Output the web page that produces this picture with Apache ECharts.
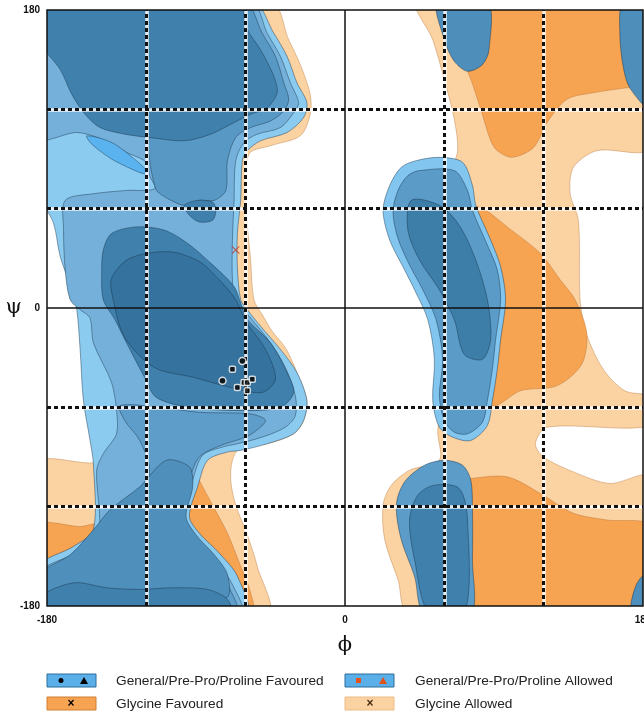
<!DOCTYPE html>
<html>
<head>
<meta charset="utf-8">
<script src="https://cdn.jsdelivr.net/npm/echarts@6/dist/echarts.min.js"></script>
<style>
  * { margin: 0; padding: 0; }
  body { background: #fff; }
  #chart { width: 644px; height: 718px; }
</style>
</head>
<body>
<div id="chart"></div>
<script>
// axis ticks
const labelTicks = [-180, 0, 180];
const gridTicks = [-120, -60, 60, 120];
const zeroTicks = [0];

// region outlines, [phi, psi] in degrees (edge points pushed to +-185, clipped by the grid)
const glyAllowedR = [[44,185],[185,185],[185,97],[152,95],[138,85],[136,69],[141,53],[142,5],[146,-16],[156,-37],[169,-50],[185,-54],[185,-71],[122,-72],[115,-82],[120,-90],[138,-99],[160,-106],[185,-102],[185,-185],[39,-185],[32,-164],[24,-140],[23,-119],[28,-107],[39,-98],[57,-92],[56,-74],[60,-43],[57,-7],[45,17],[39,41],[45,65],[63,83],[68,95],[66,114],[60,138],[53,162]];
const glyAllowedL = [[-185,185],[-45,185],[-34,162],[-27,147],[-21,129],[-21,117],[-27,104],[-45,98],[-58,93],[-60,65],[-57,29],[-55,5],[-50,-4],[-44,-14],[-36,-24],[-29,-39],[-23,-56],[-25,-68],[-31,-76],[-47,-82],[-63,-84],[-68,-92],[-69,-104],[-66,-119],[-59,-137],[-53,-156],[-47,-185],[-185,-185],[-185,-94],[-150,-93],[-146,-80],[-146,0],[-146,60],[-150,120],[-185,130]];
const glyFavTop = [[57,185],[185,185],[185,135],[170,133],[150,130],[134,126],[122,112],[114,97],[101,91],[92,95],[88,101],[82,120],[74,143],[63,162]];
const glyFavMid = [[76,62],[85,59],[98,49],[118,33],[130,17],[139,5],[146,-15],[143,-34],[128,-47],[106,-50],[91,-59],[82,-56],[82,5],[76,35],[71,56]];
const glyFavBot = [[69,-105],[76,-103],[98,-102],[118,-112],[138,-124],[158,-128],[185,-132],[185,-185],[66,-185],[66,-128]];
const glyFavBand = [[-91,-97],[-88,-104],[-80,-119],[-71,-136],[-63,-156],[-57,-172],[-56,-185],[-97,-185],[-97,-116]];
const glyFavEdge = [[-185,-131],[-160,-132],[-148,-131],[-148,-152],[-185,-161]];

const genAllowed = [[-185,185],[-56,185],[-43,166],[-35,152],[-29,136],[-23,124],[-25,115],[-35,106],[-51,101],[-59,95],[-62,89],[-63,65],[-65,45],[-65,25],[-63,5],[-59,-1],[-51,-11],[-39,-25],[-29,-39],[-23,-56],[-25,-68],[-31,-76],[-47,-82],[-63,-86],[-71,-87],[-83,-92],[-89,-108],[-94,-126],[-88,-136],[-76,-148],[-65,-162],[-60,-185],[-185,-185],[-185,-156],[-164,-144],[-152,-134],[-152,-94],[-154,-80],[-158,-56],[-160,-25],[-162,-1],[-165,11],[-172,31],[-176,51],[-185,71]];
const genLight = [[-185,185],[-57,185],[-47,166],[-39,152],[-33,136],[-28,124],[-31,118],[-39,109],[-53,105],[-61,100],[-66,89],[-67,65],[-68,41],[-68,17],[-66,5],[-57,-6],[-45,-21],[-36,-36],[-30,-53],[-30,-65],[-36,-72],[-50,-78],[-65,-82],[-74,-84],[-86,-89],[-92,-104],[-97,-125],[-91,-140],[-79,-152],[-68,-167],[-63,-185],[-185,-185],[-185,-160],[-163,-148],[-149,-137],[-150,-98],[-146,-88],[-138,-76],[-138,-62],[-141,-45],[-152,-21],[-154,-6],[-160,-1],[-166,5],[-169,23],[-170,47],[-169,65],[-152,69],[-132,71],[-115,72],[-118,80],[-120,88],[-132,94],[-147,102],[-162,106],[-185,103]];
const genBright = [[-156,104],[-141,100],[-126,89],[-120,83],[-121,81],[-129,84],[-141,90],[-153,99]];
const genSteelTop = [[-88,185],[-60,185],[-50,166],[-42,152],[-37,136],[-34,126],[-37,119],[-45,113],[-57,109],[-66,103],[-71,89],[-72,71],[-79,65],[-88,65],[-97,62],[-105,65],[-113,70],[-115,74],[-118,89],[-118,103],[-100,114]];
const genSteelLow = [[-136,-59],[-112,-60],[-88,-63],[-57,-64],[-48,-68],[-58,-77],[-75,-83],[-88,-90],[-94,-104],[-98,-125],[-92,-140],[-82,-152],[-71,-167],[-66,-185],[-185,-185],[-185,-164],[-160,-152],[-136,-134],[-124,-116],[-118,-98],[-124,-80],[-133,-68]];
const genDarkTop = [[-185,185],[-65,185],[-59,168],[-51,156],[-43,140],[-41,130],[-47,121],[-57,117],[-69,111],[-81,105],[-97,101],[-118,103],[-133,105],[-148,109],[-157,117],[-165,129],[-172,144],[-185,162]];
const genBump = [[-97,62],[-94,56],[-88,52],[-80,53],[-78,59],[-80,64],[-89,65]];
const genDarkAlpha = [[-141,45],[-126,49],[-109,47],[-95,39],[-81,27],[-67,13],[-63,3],[-59,-7],[-45,-21],[-35,-39],[-31,-51],[-39,-60],[-63,-62],[-94,-60],[-114,-54],[-121,-42],[-132,-21],[-139,-7],[-146,5],[-147,21],[-146,35]];
const genCore = [[-140,5],[-133,-18],[-115,-36],[-91,-42],[-69,-48],[-50,-51],[-42,-43],[-48,-25],[-60,-8],[-66,5],[-76,17],[-88,28],[-106,34],[-130,30],[-141,18]];
const genMountain = [[-152,-134],[-142,-122],[-124,-108],[-108,-92],[-94,-96],[-92,-108],[-96,-126],[-90,-137],[-79,-149],[-71,-161],[-72,-175],[-185,-175],[-185,-161],[-166,-149]];
const genDarkBottom = [[-185,-175],[-164,-166],[-144,-169],[-124,-170],[-104,-169],[-83,-170],[-71,-176],[-69,-185],[-185,-185]];

const blobTop = [[56,185],[86,185],[87,156],[83,147],[74,143],[66,149],[60,162]];
const blobEdge = [[168,185],[185,185],[185,120],[172,133],[168,146],[166,166]];
const blobCorner = [[173,-185],[176,-167],[185,-158],[185,-185]];
const lhOuter = [[43,89],[57,91],[71,88],[77,74],[79,62],[88,41],[94,25],[97,5],[94,-19],[92,-37],[89,-56],[86,-71],[76,-80],[65,-78],[57,-72],[53,-56],[54,-31],[50,-7],[42,11],[36,23],[27,41],[23,59],[27,74],[34,85]];
const lhMid = [[45,83],[66,83],[74,71],[77,59],[86,38],[92,23],[94,5],[91,-19],[89,-37],[86,-56],[83,-69],[74,-76],[66,-75],[60,-68],[57,-53],[59,-31],[55,-7],[47,11],[39,26],[32,42],[29,58],[32,71],[38,80]];
const lhCore = [[40,65],[57,62],[69,50],[79,29],[86,5],[88,-19],[83,-31],[72,-28],[66,-7],[57,11],[45,29],[38,47]];
const lowBlob = [[48,-95],[60,-92],[71,-95],[76,-104],[77,-122],[77,-152],[76,-185],[48,-185],[42,-162],[34,-140],[31,-119],[36,-105]];
const lowCore = [[54,-107],[69,-109],[74,-128],[72,-185],[51,-185],[42,-152],[39,-128],[44,-113]];

// residues
const generalRound = [[-62,-32],[-74,-44]];
const generalSquare = [[-68,-37],[-65,-48],[-61,-45],[-59,-45],[-56,-43],[-59,-50]];
const glycinePts = [[-66,35]];

const legendLabels = ['General/Pre-Pro/Proline Favoured', 'General/Pre-Pro/Proline Allowed', 'Glycine Favoured', 'Glycine Allowed'];

const ORANGE_EDGE = 'rgba(170,100,40,0.45)';
const BLUE_EDGE = 'rgba(20,45,70,0.55)';

// draw order: back to front
const regions = [
  { pts: glyAllowedR, fill: '#fbd2a2', edge: ORANGE_EDGE },
  { pts: glyAllowedL, fill: '#fbd2a2', edge: ORANGE_EDGE },
  { pts: glyFavTop, fill: '#f6a352', edge: ORANGE_EDGE },
  { pts: glyFavMid, fill: '#f6a352', edge: ORANGE_EDGE },
  { pts: glyFavBot, fill: '#f6a352', edge: ORANGE_EDGE },
  { pts: glyFavBand, fill: '#f6a352', edge: ORANGE_EDGE },
  { pts: glyFavEdge, fill: '#f6a352', edge: ORANGE_EDGE },
  { pts: genAllowed, fill: '#8ccbf0', edge: BLUE_EDGE },
  { pts: genLight, fill: '#74b0d9', edge: BLUE_EDGE },
  { pts: genBright, fill: '#5ab3ee', edge: BLUE_EDGE },
  { pts: genSteelTop, fill: '#5898c5', edge: BLUE_EDGE },
  { pts: genSteelLow, fill: '#5e9dc9', edge: BLUE_EDGE },
  { pts: genDarkTop, fill: '#3f80ac', edge: BLUE_EDGE },
  { pts: genBump, fill: '#3f80ac', edge: BLUE_EDGE },
  { pts: genDarkAlpha, fill: '#3f80ac', edge: BLUE_EDGE },
  { pts: genCore, fill: '#35729d', edge: BLUE_EDGE },
  { pts: genMountain, fill: '#4f8fbc', edge: BLUE_EDGE },
  { pts: genDarkBottom, fill: '#3f80ac', edge: BLUE_EDGE },
  { pts: blobTop, fill: '#4d8ebb', edge: BLUE_EDGE },
  { pts: blobEdge, fill: '#4d8ebb', edge: BLUE_EDGE },
  { pts: blobCorner, fill: '#4d8ebb', edge: BLUE_EDGE },
  { pts: lhOuter, fill: '#82c6ef', edge: BLUE_EDGE },
  { pts: lhMid, fill: '#5a9bc8', edge: BLUE_EDGE },
  { pts: lhCore, fill: '#3d7ea9', edge: BLUE_EDGE },
  { pts: lowBlob, fill: '#5b9cc9', edge: BLUE_EDGE },
  { pts: lowCore, fill: '#3f80ac', edge: BLUE_EDGE }
];

const chart = echarts.init(document.getElementById('chart'));

const renderRegion = (params, api) => {
  const r = regions[params.dataIndex];
  return {
    type: 'polygon',
    shape: { points: r.pts.map(p => api.coord(p)), smooth: 0.3 },
    style: { fill: r.fill, stroke: r.edge, lineWidth: 0.8 }
  };
};

const lineMarks = (ticks, style) => ({
  silent: true,
  symbol: 'none',
  label: { show: false },
  animation: false,
  lineStyle: style,
  data: ticks.map(v => ({ xAxis: v })).concat(ticks.map(v => ({ yAxis: v })))
});

const axisCommon = {
  type: 'value', min: -180, max: 180, interval: 60,
  axisLine: { show: false }, axisTick: { show: false }, splitLine: { show: false },
  nameLocation: 'middle', nameMoveOverlap: false,
  nameTextStyle: { fontSize: 21, fontFamily: 'DejaVu Serif', color: '#111' }
};
const tickLabel = {
  formatter: v => labelTicks.includes(v) ? String(v) : '',
  color: '#111', fontSize: 10, fontWeight: 'bold', fontFamily: 'Liberation Sans'
};

const swatchY = [674, 697];
const legendGraphics = [
  { type: 'rect', shape: { x: 47, y: swatchY[0], width: 49, height: 13 }, style: { fill: '#5aafe8', stroke: '#2d6c9c', lineWidth: 1 } },
  { type: 'circle', shape: { cx: 61, cy: swatchY[0] + 6.5, r: 2.5 }, style: { fill: '#000' } },
  { type: 'polygon', shape: { points: [[84, swatchY[0] + 3], [80, swatchY[0] + 10], [88, swatchY[0] + 10]] }, style: { fill: '#000' } },
  { type: 'rect', shape: { x: 345, y: swatchY[0], width: 49, height: 13 }, style: { fill: '#5aafe8', stroke: '#2d6c9c', lineWidth: 1 } },
  { type: 'rect', shape: { x: 356, y: swatchY[0] + 4, width: 5, height: 5 }, style: { fill: '#e0531c' } },
  { type: 'polygon', shape: { points: [[383, swatchY[0] + 3], [379, swatchY[0] + 10], [387, swatchY[0] + 10]] }, style: { fill: '#e0531c' } },
  { type: 'rect', shape: { x: 47, y: swatchY[1], width: 49, height: 13 }, style: { fill: '#f6a352', stroke: '#cf7f33', lineWidth: 1 } },
  { type: 'text', x: 71, y: swatchY[1] + 7, style: { text: '×', fill: '#000', font: 'bold 12px Liberation Sans', align: 'center', verticalAlign: 'middle' } },
  { type: 'rect', shape: { x: 345, y: swatchY[1], width: 49, height: 13 }, style: { fill: '#fbd2a2', stroke: '#ecbd86', lineWidth: 1 } },
  { type: 'text', x: 370, y: swatchY[1] + 7, style: { text: '×', fill: '#4a2a10', font: 'bold 12px Liberation Sans', align: 'center', verticalAlign: 'middle' } }
];
[[116, 0], [415, 0], [116, 1], [415, 1]].forEach(([x, row], i) => {
  legendGraphics.push({
    type: 'text', x: x, y: swatchY[row] + 7,
    style: { text: legendLabels[i], fill: '#222', font: '13.7px Liberation Sans', verticalAlign: 'middle' }
  });
});

chart.setOption({
  animation: false,
  backgroundColor: '#fff',
  grid: {
    left: 47, top: 10, width: 596, height: 596, outerBoundsMode: 'none', containLabel: false,
    show: true, backgroundColor: 'transparent', borderColor: '#111', borderWidth: 1.5, z: 10
  },
  xAxis: Object.assign({}, axisCommon, {
    name: 'ϕ', nameGap: 29,
    axisLabel: Object.assign({}, tickLabel, { margin: 9 })
  }),
  yAxis: Object.assign({}, axisCommon, {
    name: 'ψ', nameGap: 25, nameRotate: 0,
    nameTextStyle: Object.assign({}, axisCommon.nameTextStyle, { padding: [0, 0, 14, 0] }),
    axisLabel: Object.assign({}, tickLabel, { margin: 7 })
  }),
  graphic: legendGraphics,
  series: [
    {
      type: 'custom',
      clip: true,
      z: 2,
      renderItem: renderRegion,
      data: regions.map((r, i) => [i, 0])
    },
    { type: 'line', data: [], z: 3, markLine: lineMarks(gridTicks, { color: 'rgba(255,255,255,0.85)', width: 3.5, type: 'solid' }) },
    { type: 'line', data: [], z: 4, markLine: lineMarks(gridTicks, { color: '#111', width: 3, type: [4, 3] }) },
    { type: 'line', data: [], z: 5, markLine: lineMarks(zeroTicks, { color: '#111', width: 1.5, type: 'solid' }) },
    {
      type: 'scatter', z: 6, data: generalRound, symbol: 'circle', symbolSize: 7,
      itemStyle: { color: '#000', borderColor: '#fff', borderWidth: 1.5 }
    },
    {
      type: 'scatter', z: 6, data: generalSquare, symbol: 'roundRect', symbolSize: 6,
      itemStyle: { color: '#000', borderColor: '#fff', borderWidth: 1.5 }
    },
    {
      type: 'scatter', z: 6, data: glycinePts, symbolSize: 8,
      symbol: 'path://M0,1L1,0L5,4L9,0L10,1L6,5L10,9L9,10L5,6L1,10L0,9L4,5Z',
      itemStyle: { color: '#c0392b' }
    }
  ]
});
</script>
</body>
</html>
